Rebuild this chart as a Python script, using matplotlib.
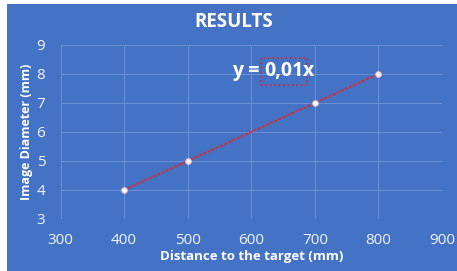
import matplotlib.pyplot as plt
from matplotlib.patches import Rectangle

# data
distance = [400, 500, 700, 800]
diameter = [4, 5, 7, 8]
slope = 0.01
x_ticks = [300, 400, 500, 600, 700, 800, 900]
y_ticks = [3, 4, 5, 6, 7, 8, 9]

blue = "#4472c4"
grid_col = "#6c91d4"
plt.rcParams['font.family'] = ['Open Sans', 'DejaVu Sans']

fig = plt.figure(figsize=(4.57, 2.71), dpi=100)
fig.patch.set_facecolor("white")
fig.add_artist(Rectangle((7 / 457, 0), 1, 1 - 4 / 271, transform=fig.transFigure,
                         facecolor=blue, edgecolor="none", zorder=-10))

ax = fig.add_axes([0.1324, 0.192, 0.8346, 0.642])
ax.set_facecolor(blue)
ax.set_xlim(300, 900)
ax.set_ylim(3, 9)
ax.set_xticks(x_ticks)
ax.set_yticks(y_ticks)
ax.grid(True, color=grid_col, lw=0.7)
ax.set_axisbelow(True)
for s in ax.spines.values():
    s.set_visible(False)
ax.tick_params(length=0, labelsize=11, colors="#f0f4fb")
ax.tick_params(axis="x", pad=10)
ax.tick_params(axis="y", pad=11)

# trendline
tx = [min(distance), max(distance)]
ax.plot(tx, [slope * v for v in tx], color="#cc3340", ls=(0, (1.5, 0.7)), lw=1.5, zorder=2)
ax.plot(distance, diameter, ls="none", marker="o", ms=4, mfc="white",
        mec="#e8c0c4", mew=0.8, zorder=3)

ax.set_xlabel("Distance to the target (mm)", color="white", fontsize=9.5,
              fontweight="bold", va="center")
ax.xaxis.set_label_coords(0.5, -0.218)
ax.set_ylabel("Image Diameter (mm)", color="white", fontsize=9,
              fontweight="bold", va="center")
ax.yaxis.set_label_coords(-0.088, 0.5)
fig.text(0.512, 0.918, "RESULTS", color="white", fontsize=13.5, fontweight="bold",
         ha="center", va="center")

# equation with the boxed coefficient
t = ax.text(652, 8.1, "0,01", color="white", fontsize=14, fontweight="bold",
            ha="center", va="center",
            bbox=dict(facecolor="none", edgecolor="#d9262a", ls=":", lw=1.2, pad=2.5))
ax.annotate("y = ", xy=(0, 0.5), xycoords=t, xytext=(0, 0), textcoords="offset points",
            ha="right", va="center", color="white", fontsize=14, fontweight="bold")
ax.annotate("x", xy=(1, 0.5), xycoords=t, xytext=(-1, 0), textcoords="offset points",
            ha="left", va="center", color="white", fontsize=14, fontweight="bold")

plt.savefig("out.png", dpi=100)
